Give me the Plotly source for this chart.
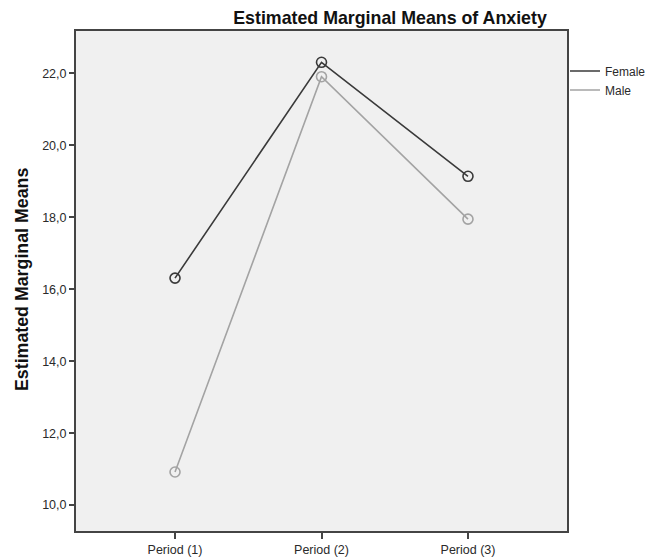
import plotly.graph_objects as go

categories = ["Period (1)", "Period (2)", "Period (3)"]
female = [16.31, 22.31, 19.14]
male = [10.92, 21.91, 17.95]
y_ticks = [10, 12, 14, 16, 18, 20, 22]

FONT = "Liberation Sans, Arial, sans-serif"
x_idx = list(range(len(categories)))
FEMALE_C = "#3a3a3a"
MALE_C = "#a3a3a3"

L, R, T, B = 76, 83, 31, 26
PW, PH = 650 - L - R, 557 - T - B

fig = go.Figure()
for name, vals, col in [("Female", female, FEMALE_C), ("Male", male, MALE_C)]:
    fig.add_trace(go.Scatter(
        x=x_idx, y=vals, name=name, mode="lines+markers", showlegend=False,
        legendgroup=name,
        line=dict(color=col, width=1.6),
        marker=dict(symbol="circle-open", size=10, color=col, line=dict(width=1.6)),
    ))
    # legend entry drawn as line only (as in the original)
    fig.add_trace(go.Scatter(
        x=[None], y=[None], name=name, mode="lines", legendgroup=name,
        line=dict(color=col, width=1.6), showlegend=True,
    ))

fig.update_layout(
    width=650, height=557,
    margin=dict(l=L, r=R, t=T, b=B, autoexpand=False),
    paper_bgcolor="white", plot_bgcolor="#f0f0f0",
    separators=",.",
    font=dict(family=FONT, size=12.5, color="#2a2a2a"),
    title=dict(text="<b>Estimated Marginal Means of Anxiety</b>",
               font=dict(family=FONT, size=17.8, color="#111111"),
               x=390/650, xanchor="center", y=1-18/557, yanchor="middle"),
    legend=dict(x=(565 - L) / PW, xanchor="left", y=1-(80.5-T)/PH, yanchor="middle",
                bgcolor="rgba(0,0,0,0)", font=dict(size=12, color="#2a2a2a"),
                tracegroupgap=0, itemwidth=30, borderwidth=0),
    showlegend=True,
    annotations=[dict(
        text="<b>Estimated Marginal Means</b>", textangle=-90,
        xref="paper", yref="paper", x=(22 - L) / PW, y=(557 - B - 280) / PH,
        xanchor="center", yanchor="middle", showarrow=False,
        font=dict(family=FONT, size=17.8, color="#111111"),
    )],
)
fig.update_xaxes(
    range=[-0.676, 2.676], tickmode="array", tickvals=x_idx, ticktext=categories,
    showgrid=False, zeroline=False, showline=True, linecolor="#444444", linewidth=2,
    mirror=True, ticks="outside", ticklen=6, tickwidth=2, tickcolor="#444444",
    tickfont=dict(size=12.5), automargin=False,
)
fig.update_yaxes(
    range=[9.28, 23.18], tickmode="array", tickvals=y_ticks, tickformat=".1f",
    showgrid=False, zeroline=False, showline=True, linecolor="#444444", linewidth=2,
    mirror=True, ticks="outside", ticklen=5, tickwidth=2, tickcolor="#444444",
    tickfont=dict(size=12.5), automargin=False,
)

fig.write_html(
    "out.html",
    config={"displayModeBar": False},
    post_script="document.body.style.margin='0';document.body.style.overflow='hidden';",
)
